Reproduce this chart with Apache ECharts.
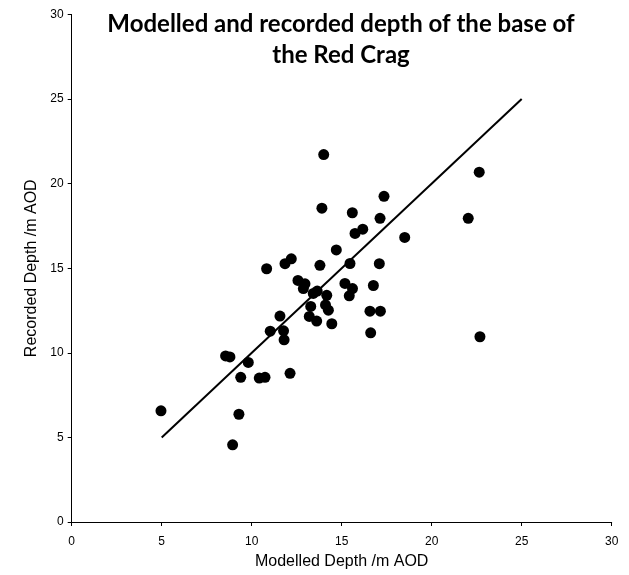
<!DOCTYPE html>
<html>
<head>
<meta charset="utf-8">
<script src="https://cdn.jsdelivr.net/npm/echarts@6/dist/echarts.min.js"></script>
<style>html,body{margin:0;padding:0;background:#fff}#c{width:629px;height:575px}</style>
</head>
<body>
<div id="c"></div>
<script>
var titleText = 'Modelled and recorded depth of the base of\nthe Red Crag';
var xAxisName = 'Modelled Depth /m AOD';
var yAxisName = 'Recorded Depth /m AOD';
var modelled = [14.0, 13.9, 14.7, 10.83, 11.85, 12.2, 13.79, 12.57, 12.96, 12.87, 13.42, 13.64, 14.17, 13.28, 14.1, 14.26, 13.2, 13.61, 14.45, 11.57, 11.03, 11.77, 11.8, 8.55, 8.79, 9.81, 9.39, 10.42, 10.74, 12.13, 4.96, 9.29, 8.94, 22.64, 22.03, 17.35, 15.59, 17.13, 16.17, 15.74, 18.5, 15.46, 17.09, 15.18, 15.6, 15.42, 16.76, 16.57, 17.15, 16.61, 22.68];
var recorded = [21.72, 18.55, 16.08, 14.97, 15.27, 15.56, 15.17, 14.28, 14.08, 13.8, 13.51, 13.65, 13.4, 12.74, 12.83, 12.52, 12.15, 11.88, 11.72, 12.17, 11.28, 11.3, 10.77, 9.82, 9.76, 9.43, 8.55, 8.51, 8.55, 8.79, 6.57, 6.37, 4.56, 20.68, 17.95, 19.25, 18.28, 17.95, 17.31, 17.06, 16.82, 15.28, 15.27, 14.1, 13.8, 13.37, 13.98, 12.46, 12.46, 11.18, 10.95];
var lineX = [5, 25];
var lineY = [5, 25];
var xTicks = [0, 5, 10, 15, 20, 25, 30];
var yTicks = [0, 5, 10, 15, 20, 25, 30];

var pts = modelled.map(function (x, i) { return [x, recorded[i]]; });
var linePts = lineX.map(function (x, i) { return [x, lineY[i]]; });

var chart = echarts.init(document.getElementById('c'), null, {renderer: 'canvas'});
var axisCommon = {
  type: 'value', min: xTicks[0], max: xTicks[xTicks.length - 1], interval: 5,
  axisLine: {show: true, onZero: false, lineStyle: {color: '#000', width: 1}},
  axisTick: {show: true, inside: false, length: 4, lineStyle: {color: '#000'}},
  splitLine: {show: false},
  axisLabel: {color: '#000', fontFamily: 'Liberation Sans, Arial', fontSize: 12},
  nameTextStyle: {color: '#000', fontFamily: 'Liberation Sans, Arial', fontSize: 16}
};
chart.setOption({
  animation: false,
  backgroundColor: '#fff',
  title: {
    text: titleText, left: 341, top: 9, textAlign: 'center', padding: 0,
    textStyle: {fontFamily: 'Lato, Open Sans, sans-serif', fontWeight: 'bold', fontSize: 24, lineHeight: 31, color: '#000'}
  },
  grid: {left: 71.7, right: 17.3, top: 14.5, bottom: 47},
  xAxis: Object.assign({}, axisCommon, {
    name: xAxisName, nameLocation: 'middle', nameGap: 32,
    axisLabel: Object.assign({}, axisCommon.axisLabel, {margin: 14})
  }),
  yAxis: Object.assign({}, axisCommon, {
    min: yTicks[0], max: yTicks[yTicks.length - 1],
    name: yAxisName, nameLocation: 'middle', nameGap: 29,
    axisLabel: Object.assign({}, axisCommon.axisLabel, {margin: 8})
  }),
  series: [
    {type: 'line', data: linePts, showSymbol: false, symbol: 'none', lineStyle: {color: '#000', width: 2}, z: 1},
    {type: 'scatter', data: pts, symbol: 'circle', symbolSize: 11, itemStyle: {color: '#000', opacity: 1}, z: 2}
  ]
});
</script>
</body>
</html>
